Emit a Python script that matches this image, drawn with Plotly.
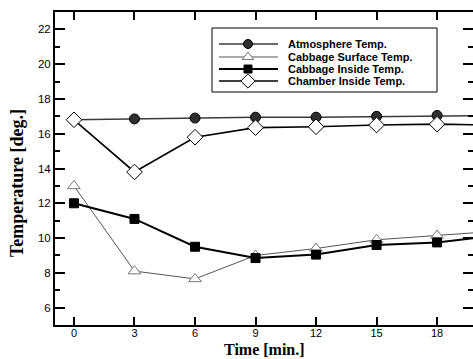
import plotly.graph_objects as go

# ---- data ----
time_min = [0, 3, 6, 9, 12, 15, 18, 21]
atmosphere = [16.8, 16.85, 16.9, 16.95, 16.95, 17.0, 17.05, 17.05]
surface = [13.0, 8.1, 7.65, 9.0, 9.4, 9.9, 10.15, 10.4]
inside = [12.0, 11.1, 9.5, 8.85, 9.05, 9.6, 9.75, 10.15]
chamber = [16.8, 13.8, 15.8, 16.35, 16.4, 16.5, 16.55, 16.5]
x_ticks = [0, 3, 6, 9, 12, 15, 18]
y_ticks = [6, 8, 10, 12, 14, 16, 18, 20, 22]
names = ["Atmosphere Temp.", "Cabbage Surface Temp.", "Cabbage Inside Temp.", "Chamber Inside Temp."]

W, H = 473, 359
L, R, T, B = 55, 0, 12, 34
PW, PH = W - L - R, H - T - B

def px(x):
    return (x - L) / PW

def py(y):
    return (H - B - y) / PH

styles = {
    "Atmosphere Temp.": dict(line=dict(color="#3a3a3a", width=1.5),
                             marker=dict(symbol="circle", size=10, color="#2e2e2e",
                                         line=dict(color="#000", width=1))),
    "Cabbage Surface Temp.": dict(line=dict(color="#555", width=1),
                                  marker=dict(symbol="triangle-up", size=11, color="white",
                                              line=dict(color="#777", width=1))),
    "Cabbage Inside Temp.": dict(line=dict(color="#000", width=2),
                                 marker=dict(symbol="square", size=9, color="#000",
                                             line=dict(color="#000", width=1))),
    "Chamber Inside Temp.": dict(line=dict(color="#000", width=1.6),
                                 marker=dict(symbol="diamond", size=12, color="white",
                                             line=dict(color="#000", width=1))),
}
series = {"Atmosphere Temp.": atmosphere, "Cabbage Surface Temp.": surface,
          "Cabbage Inside Temp.": inside, "Chamber Inside Temp.": chamber}

fig = go.Figure()
for nm in ["Cabbage Surface Temp.", "Cabbage Inside Temp.", "Atmosphere Temp.", "Chamber Inside Temp."]:
    fig.add_trace(go.Scatter(x=time_min, y=series[nm], mode="lines+markers", name=nm,
                             showlegend=False, **styles[nm]))

# right-side mirrored ticks (no line)
fig.add_trace(go.Scatter(x=[None], y=[None], yaxis="y2", showlegend=False))

# manual legend samples on overlay axes in plot-fraction coords
rows_y = [44, 57, 69, 81]
for nm, ry in zip(names, rows_y):
    fig.add_trace(go.Scatter(x=[px(219), px(278)], y=[py(ry), py(ry)], mode="lines",
                             line=styles[nm]["line"], xaxis="x2", yaxis="y3",
                             showlegend=False, hoverinfo="skip"))
    mk = dict(styles[nm]["marker"])
    mk["size"] = mk["size"] - 1
    fig.add_trace(go.Scatter(x=[px(248)], y=[py(ry)], mode="markers",
                             marker=mk, xaxis="x2", yaxis="y3",
                             showlegend=False, hoverinfo="skip"))

annotations = []
for nm, ry in zip(names, rows_y):
    annotations.append(dict(x=px(286), y=py(ry), xref="paper", yref="paper", text="<b>" + nm + "</b>",
                            showarrow=False, xanchor="left", yanchor="middle",
                            font=dict(family="Liberation Sans, Arial", size=11, color="#000")))
annotations.append(dict(x=px(264), y=py(349), xref="paper", yref="paper", borderpad=0,
                        text="<b>Time [min.]</b>", showarrow=False, xanchor="center", yanchor="middle",
                        font=dict(family="Liberation Serif, Times New Roman", size=16, color="#000")))
annotations.append(dict(x=px(17), y=py(183), xref="paper", yref="paper",
                        text="<b>Temperature [deg.]</b>", showarrow=False, textangle=-90,
                        xanchor="center", yanchor="middle",
                        font=dict(family="Liberation Serif, Times New Roman", size=18, color="#000")))

shapes = [dict(type="rect", xref="paper", yref="paper", x0=px(212), x1=px(437), y0=py(92), y1=py(28),
               line=dict(color="#000", width=1), fillcolor="white", layer="below")]

tickfont = dict(family="Liberation Sans, Arial", size=11, color="#000")
fig.update_layout(
    width=W, height=H, margin=dict(l=L, r=R, t=T, b=B),
    paper_bgcolor="white", plot_bgcolor="white",
    showlegend=False,
    xaxis=dict(range=[-0.94, 19.78], tickvals=x_ticks, ticks="inside", ticklen=8, tickwidth=2,
               tickcolor="#000", showline=True, linewidth=2, linecolor="#000", mirror="ticks",
               showgrid=False, zeroline=False, tickfont=tickfont, ticklabelstandoff=-3),
    yaxis=dict(range=[5, 23], tickvals=y_ticks, ticks="inside", ticklen=10, tickwidth=2,
               tickcolor="#000", showline=True, linewidth=2, linecolor="#000",
               showgrid=False, zeroline=False, tickfont=dict(tickfont, size=11.5),
               minor=dict(dtick=1, ticks="inside", ticklen=5, tickwidth=1.5, tickcolor="#000")),
    yaxis2=dict(range=[5, 23], overlaying="y", side="right", tickvals=y_ticks, ticks="inside",
                ticklen=10, tickwidth=2, tickcolor="#000", showline=False, showgrid=False,
                zeroline=False, showticklabels=False,
                minor=dict(dtick=1, ticks="inside", ticklen=5, tickwidth=1.5, tickcolor="#000")),
    xaxis2=dict(range=[0, 1], overlaying="x", visible=False),
    yaxis3=dict(range=[0, 1], overlaying="y", visible=False),
    annotations=annotations, shapes=shapes,
)

fig.write_html("out.html")
